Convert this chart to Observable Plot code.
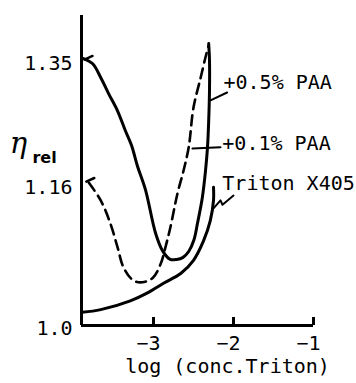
<!DOCTYPE html>
<html><head><meta charset="utf-8">
<script src="https://cdn.jsdelivr.net/npm/d3@7"></script>
<script src="https://cdn.jsdelivr.net/npm/@observablehq/plot@0.6"></script>
<style>body{margin:0;background:#fff} svg{display:block}</style>
</head><body><div id="chart"></div>
<script>
// Axis settings
const xTicks = [-3, -2, -1];
const yTicks = [1.0, 1.16, 1.35];
const yTickLabels = ["1.0", "1.16", "1.35"];
const xDomain = [-3.9, -1];
const yTop = 1.419;
// The original axis is not drawn to scale: tick values sit at these relative heights
const yTickHeights = [0, 141, 265];

// +0.5% PAA (solid)
const x05 = [-3.875, -3.76, -3.66, -3.56, -3.45, -3.35, -3.275, -3.20, -3.10, -2.975, -2.888, -2.79, -2.71, -2.635, -2.56, -2.495, -2.45, -2.39, -2.35, -2.325, -2.31, -2.30, -2.30, -2.31];
const y05 = [1.353, 1.345, 1.324, 1.299, 1.273, 1.242, 1.220, 1.188, 1.154, 1.105, 1.085, 1.075, 1.075, 1.077, 1.084, 1.097, 1.116, 1.145, 1.181, 1.217, 1.258, 1.304, 1.350, 1.376];

// +0.1% PAA (dashed)
const x01 = [-3.81, -3.66, -3.54, -3.45, -3.375, -3.25, -3.14, -3.01, -2.91, -2.85, -2.79, -2.70, -2.625, -2.56, -2.50, -2.41, -2.35, -2.31];
const y01 = [1.163, 1.142, 1.116, 1.089, 1.066, 1.051, 1.049, 1.054, 1.070, 1.089, 1.111, 1.150, 1.181, 1.217, 1.278, 1.324, 1.355, 1.373];

// Triton X405 (solid)
const xTr = [-3.89, -3.66, -3.29, -3.075, -2.875, -2.66, -2.50, -2.375, -2.29, -2.25, -2.25];
const yTr = [1.015, 1.018, 1.028, 1.037, 1.048, 1.059, 1.074, 1.096, 1.119, 1.142, 1.157];

// Curve labels
const labelText = ["+0.5% PAA", "+0.1% PAA", "Triton X405"];
const labelX = [-2.125, -2.14, -2.14];
const labelY = [1.316, 1.223, 1.162];

// Leader lines (label -> curve)
const leader05 = [[-2.2875, 1.289], [-2.08, 1.301]];
const leader01 = [[-2.5125, 1.215], [-2.1625, 1.217]];
const leaderTr = [[-2.25, 1.133], [-2.1625, 1.142], [-2.1375, 1.137], [-2.0, 1.1475]];
// Small barbs at the left ends of the PAA curves
const barb05 = [[-3.8625, 1.3515], [-3.7625, 1.357]];
const barb01 = [[-3.84, 1.1645], [-3.74, 1.170]];

const pts = (xs, ys) => xs.map((x, i) => ({x, y: ys[i]}));
const pairs = (a) => a.map(([x, y]) => ({x, y}));
const labels = labelText.map((t, i) => ({t, x: labelX[i], y: labelY[i]}));
const yMap = d3.scaleLinear().domain(yTicks).range(yTickHeights);

const chart = Plot.plot({
  width: 356, height: 383,
  marginLeft: 81, marginRight: 43, marginTop: 15, marginBottom: 58,
  style: {fontFamily: "DejaVu Sans Mono", fontSize: "20px", background: "white", color: "black"},
  x: {domain: xDomain},
  y: {transform: yMap, nice: false},
  marks: [
    Plot.axisX({ticks: xTicks, tickSize: -8, strokeWidth: 3, fill: "none", label: null}),
    Plot.axisX({ticks: xTicks, tickSize: 0, tickPadding: 10, dx: -5, label: null, fontSize: 20,
      tickFormat: d => "\u2212" + Math.abs(d)}),
    Plot.axisY({ticks: yTicks.map(yMap), tickSize: 0, tickPadding: 9, dy: 3, fontSize: 20,
      tickFormat: (d, i) => yTickLabels[i], label: null}),
    Plot.ruleX([xDomain[0]], {y1: 1.0, y2: yTop, strokeWidth: 3}),
    Plot.ruleY([1.0], {x1: xDomain[0], x2: xDomain[1], strokeWidth: 3}),
    Plot.line(pts(xTr, yTr), {x: "x", y: "y", curve: "catmull-rom", strokeWidth: 3}),
    Plot.line(pts(x05, y05), {x: "x", y: "y", curve: "catmull-rom", strokeWidth: 3}),
    Plot.line(pts(x01, y01), {x: "x", y: "y", curve: "catmull-rom", strokeWidth: 2.6, strokeDasharray: "10,6"}),
    Plot.line(pairs(barb05), {x: "x", y: "y", strokeWidth: 2.5}),
    Plot.line(pairs(barb01), {x: "x", y: "y", strokeWidth: 2.5}),
    Plot.line(pairs(leader05), {x: "x", y: "y", strokeWidth: 2}),
    Plot.line(pairs(leader01), {x: "x", y: "y", strokeWidth: 2}),
    Plot.line(pairs(leaderTr), {x: "x", y: "y", strokeWidth: 2}),
    Plot.text(labels, {x: "x", y: "y", text: "t", textAnchor: "start", fontSize: 20}),
    Plot.text(["log (conc.Triton)"], {frameAnchor: "bottom", dx: 30, dy: 47, fontSize: 20}),
    Plot.text(["η"], {frameAnchor: "top-left", textAnchor: "middle", lineAnchor: "middle", dx: -63, dy: 128, fontSize: 29, fontStyle: "italic", fontFamily: "DejaVu Serif"}),
    Plot.text(["rel"], {frameAnchor: "top-left", textAnchor: "middle", lineAnchor: "middle", dx: -37, dy: 142, fontSize: 16, fontWeight: "bold", fontFamily: "DejaVu Sans"})
  ]
});
document.getElementById("chart").append(chart);
</script>
</body></html>
